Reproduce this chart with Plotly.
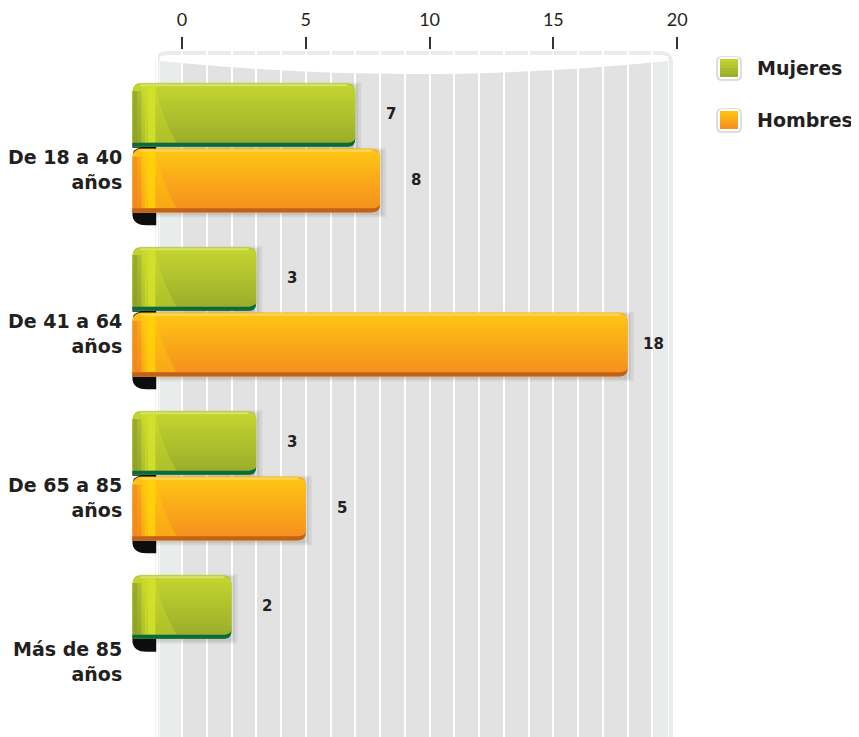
import math
import plotly.graph_objects as go

# ---------------- data ----------------
categories = ["De 18 a 40 años", "De 41 a 64 años", "De 65 a 85 años", "Más de 85 años"]
category_labels = ["De 18 a 40<br>años", "De 41 a 64<br>años", "De 65 a 85<br>años", "Más de 85<br>años"]
series_names = ["Mujeres", "Hombres"]
mujeres = [7, 3, 3, 2]
hombres = [8, 18, 5, None]
x_tick_values = [0, 5, 10, 15, 20]
x_tick_labels = ["0", "5", "10", "15", "20"]

series_values = [mujeres, hombres]

# ---------------- style ----------------
FONT_B = "DejaVu Sans"
FONT_R = "Lato"
TEXT = "#231f20"
colors = ["#adc02c", "#f9a61a"]
grad_top = [(0xc6, 0xd6, 0x30), (0xfe, 0xc7, 0x14)]
grad_bot = [(0x98, 0xab, 0x2a), (0xf5, 0x8c, 0x1f)]
edge_colors = ["#0b6a3a", "#c2621a"]
light_colors = ["#d3e22b", "#ffd20b"]
dark_left = ["#8c9d28", "#ee8420"]

RIBBON_START = -2.0
PANEL_L, PANEL_R = -1.0, 19.75
X_RANGE = [-2.1, 20.6]
PAGE_OFF = 8            # html body margin
PLOT_TOP_S = 50         # screen px
SCREEN_BOTTOM = 737 + PAGE_OFF
PLOT_L_S, PLOT_W = 130, 562
PX_PER_CAT = 164.0
Y_TOP = -0.596
Y_RANGE = [Y_TOP + (SCREEN_BOTTOM - PLOT_TOP_S) / PX_PER_CAT, Y_TOP]
OFFSETS = [-0.2, 0.2]
HALF = 0.4 * (1 - 0.03) / 2
R = 8  # bar corner radius px


def py(p):  # screen pixel y -> paper y
    return (SCREEN_BOTTOM - p) / (SCREEN_BOTTOM - PLOT_TOP_S)


def px(p):  # screen pixel x -> paper x
    return (p - PLOT_L_S) / PLOT_W


def rrect(x0, x1, y0, y1, rx, ry):
    return (f"M {x0},{y0 + ry} L {x0},{y1 - ry} Q {x0},{y1} {x0 + rx},{y1} "
            f"L {x1 - rx},{y1} Q {x1},{y1} {x1},{y1 - ry} L {x1},{y0 + ry} "
            f"Q {x1},{y0} {x1 - rx},{y0} L {x0 + rx},{y0} Q {x0},{y0} {x0},{y0 + ry} Z")


def hexc(c):
    return "#%02x%02x%02x" % tuple(int(round(v)) for v in c)


ux = 1 / 24.75
uy = 1 / (SCREEN_BOTTOM - PLOT_TOP_S)
uc = 1 / PX_PER_CAT


def corner_dx(dist):
    if dist >= R:
        return 0.0
    d = R - dist
    return R - math.sqrt(max(R * R - d * d, 0))


fig = go.Figure()
for s, (name, vals) in enumerate(zip(series_names, series_values)):
    fig.add_trace(go.Bar(
        y=categories,
        x=[None if v is None else v - RIBBON_START for v in vals],
        base=RIBBON_START,
        orientation="h",
        name=name,
        marker=dict(color=colors[s], line=dict(width=0)),
        customdata=vals,
        hovertemplate="%{y}: %{customdata}<extra>" + name + "</extra>",
        showlegend=False,
    ))

shapes = []
# ---- panel ----
top_p = py(53)
shapes.append(dict(type="path", xref="x", yref="paper", layer="below",
                   path=(f"M {PANEL_L},-0.2 L {PANEL_L},{top_p - 10*uy} Q {PANEL_L},{top_p} {PANEL_L + 10*ux},{top_p} "
                         f"L {PANEL_R - 10*ux},{top_p} Q {PANEL_R},{top_p} {PANEL_R},{top_p - 10*uy} L {PANEL_R},-0.2 Z"),
                   fillcolor="white", line=dict(color="rgba(0,0,0,0.08)", width=4)))
shapes.append(dict(type="rect", xref="x", yref="paper", layer="below",
                   x0=PANEL_L + 3*ux, x1=PANEL_R - 3*ux, y0=-0.2, y1=top_p - 4*uy,
                   fillcolor="#e2e2e2", line=dict(width=0)))
shapes.append(dict(type="rect", xref="x", yref="paper", layer="below",
                   x0=PANEL_L + 3*ux, x1=-0.05, y0=-0.2, y1=top_p - 4*uy,
                   fillcolor="#e8ecea", line=dict(width=0)))
shapes.append(dict(type="rect", xref="x", yref="paper", layer="below",
                   x0=19.05, x1=PANEL_R - 3*ux, y0=-0.2, y1=top_p - 4*uy,
                   fillcolor="#e8ecea", line=dict(width=0)))
edge_y, mid_y = py(61), py(74)
ctrl_y = 2 * mid_y - edge_y
xm = (PANEL_L + PANEL_R) / 2
shapes.append(dict(type="path", xref="x", yref="paper", layer="above",
                   path=(f"M {PANEL_L + 3*ux},{top_p - 3*uy} L {PANEL_R - 3*ux},{top_p - 3*uy} "
                         f"L {PANEL_R - 3*ux},{edge_y} Q {xm},{ctrl_y} {PANEL_L + 3*ux},{edge_y} Z"),
                   fillcolor="white", line=dict(width=0)))

# ---- bar decoration ----
NB = 16
for s, vals in enumerate(series_values):
    for i, v in enumerate(vals):
        if v is None:
            continue
        yc = i + OFFSETS[s]
        ytop, ybot = yc - HALF, yc + HALF
        H = (ybot - ytop) / uc
        # soft shadow
        shapes.append(dict(type="rect", xref="x", yref="y", layer="between",
                           x0=RIBBON_START + 0.1, x1=v + 6*ux, y0=ytop - 1*uc, y1=ybot + 5*uc,
                           fillcolor="rgba(0,0,0,0.06)", line=dict(width=0)))
        shapes.append(dict(type="rect", xref="x", yref="y", layer="between",
                           x0=RIBBON_START + 0.1, x1=v + 3*ux, y0=ytop + 1*uc, y1=ybot + 3*uc,
                           fillcolor="rgba(0,0,0,0.08)", line=dict(width=0)))
        # black curl at the fold
        shapes.append(dict(type="path", xref="x", yref="y", layer="between",
                           path=(f"M {RIBBON_START},{ybot - 4*uc} L {RIBBON_START},{ybot + 3*uc} "
                                 f"Q {RIBBON_START + 1*ux},{ybot + 13*uc} {RIBBON_START + 14*ux},{ybot + 13*uc} "
                                 f"L {PANEL_L - 1*ux},{ybot + 13*uc} L {PANEL_L - 1*ux},{ybot - 4*uc} Z"),
                           fillcolor="#0d0d0d", line=dict(width=0)))
        # vertical gradient body (rounded top-left, rounded right end)
        for k in range(NB):
            a_px, b_px = H * k / NB, H * (k + 1) / NB
            t = (k + 0.5) / NB
            col = [grad_top[s][j] + (grad_bot[s][j] - grad_top[s][j]) * t for j in range(3)]

            def rx(p):
                return v - max(corner_dx(p), corner_dx(H - p)) * ux

            def lx(p):
                return RIBBON_START + corner_dx(p) * ux

            ya, yb = ytop + a_px * uc, ytop + b_px * uc
            shapes.append(dict(type="path", xref="x", yref="y", layer="above",
                               path=(f"M {lx(a_px)},{ya} L {rx(a_px)},{ya} L {rx(b_px)},{yb + 0.3*uc} "
                                     f"L {lx(b_px)},{yb + 0.3*uc} Z"),
                               fillcolor=hexc(col), line=dict(width=0)))
        # top highlight line
        shapes.append(dict(type="rect", xref="x", yref="y", layer="above",
                           x0=RIBBON_START + 8*ux, x1=v - 8*ux, y0=ytop + 1*uc, y1=ytop + 3*uc,
                           fillcolor="white", opacity=0.3, line=dict(width=0)))
        # left fold shading (horizontal)
        fold = [(0, 5, dark_left[s], 0.7), (5, 9, dark_left[s], 0.35),
                (9, 12, light_colors[s], 0.35), (12, 15, light_colors[s], 0.65),
                (15, 23, light_colors[s], 0.9)]
        for x0p, x1p, c, op in fold:
            shapes.append(dict(type="rect", xref="x", yref="y", layer="above",
                               x0=RIBBON_START + x0p*ux, x1=RIBBON_START + x1p*ux,
                               y0=ytop + max(3, corner_dx(0) if x0p < R else 0)*uc, y1=ybot - 4*uc,
                               fillcolor=c, opacity=op, line=dict(width=0)))
        # gloss sweep after fold
        shapes.append(dict(type="path", xref="x", yref="y", layer="above",
                           path=(f"M {RIBBON_START + 23*ux},{ytop + 3*uc} "
                                 f"Q {RIBBON_START + 28*ux},{yc} {RIBBON_START + 44*ux},{ybot - 4*uc} "
                                 f"L {RIBBON_START + 23*ux},{ybot - 4*uc} Z"),
                           fillcolor=light_colors[s], opacity=0.35, line=dict(width=0)))
        # dark bottom edge
        shapes.append(dict(type="path", xref="x", yref="y", layer="above",
                           path=(f"M {RIBBON_START},{ybot - 4*uc} L {v - 7*ux},{ybot - 4*uc} "
                                 f"Q {v - 1*ux},{ybot - 5*uc} {v},{ybot - 8*uc} "
                                 f"Q {v},{ybot} {v - 7*ux},{ybot} L {RIBBON_START},{ybot} Z"),
                           fillcolor=edge_colors[s], line=dict(width=0)))
        # top-left rounding mask over the plain bar
        shapes.append(dict(type="path", xref="x", yref="y", layer="above",
                           path=(f"M {RIBBON_START - 1*ux},{ytop - 1*uc} L {RIBBON_START + R*ux},{ytop - 1*uc} "
                                 f"Q {RIBBON_START},{ytop} {RIBBON_START - 1*ux},{ytop + R*uc} Z"),
                           fillcolor="white", line=dict(width=0)))

# ---- legend swatches ----
leg_y = [68, 120]
for s, name in enumerate(series_names):
    cy = leg_y[s]
    shapes.append(dict(type="path", xref="paper", yref="paper", layer="above",
                       path=rrect(px(716), px(742), py(cy + 13), py(cy - 12), 6 / PLOT_W, 6 * uy),
                       fillcolor="rgba(0,0,0,0.13)", line=dict(width=0)))
    shapes.append(dict(type="path", xref="paper", yref="paper", layer="above",
                       path=rrect(px(718), px(740), py(cy + 11), py(cy - 11), 5 / PLOT_W, 5 * uy),
                       fillcolor="white", line=dict(width=0)))
    for k in range(6):
        t = (k + 0.5) / 6
        col = [grad_top[s][j] + (grad_bot[s][j] - grad_top[s][j]) * t for j in range(3)]
        shapes.append(dict(type="rect", xref="paper", yref="paper", layer="above",
                           x0=px(720), x1=px(738), y0=py(cy - 9 + 3 * (k + 1)), y1=py(cy - 9 + 3 * k),
                           fillcolor=hexc(col), line=dict(width=0)))

annotations = []
for i, lab in enumerate(category_labels):
    annotations.append(dict(xref="paper", x=px(124), xanchor="right", yref="y", y=i, yshift=-22,
                            yanchor="middle", text=lab, align="right", showarrow=False,
                            font=dict(family=FONT_B, size=19, color=TEXT, weight="bold")))
for s, vals in enumerate(series_values):
    for i, v in enumerate(vals):
        if v is None:
            continue
        annotations.append(dict(xref="x", x=min(v + 1.17, 18.52), xanchor="left", yref="y", y=i + OFFSETS[s],
                                yanchor="middle", yshift=1, text=str(v), showarrow=False,
                                font=dict(family=FONT_B, size=15, color=TEXT, weight="bold")))
for s, name in enumerate(series_names):
    annotations.append(dict(xref="paper", x=px(755), xanchor="left", yref="paper", y=py(leg_y[s]),
                            yanchor="middle", text=name, showarrow=False,
                            font=dict(family=FONT_B, size=19, color=TEXT, weight="bold")))

fig.update_layout(
    width=859, height=737,
    margin=dict(l=PLOT_L_S - PAGE_OFF, r=859 - (PLOT_L_S - PAGE_OFF) - PLOT_W,
                t=PLOT_TOP_S - PAGE_OFF, b=0, pad=0),
    paper_bgcolor="white", plot_bgcolor="white",
    barmode="group", bargap=0.2, bargroupgap=0.03, barcornerradius=R,
    showlegend=False,
    xaxis=dict(side="top", range=X_RANGE, tickmode="linear", tick0=x_tick_values[0],
               dtick=x_tick_values[1] - x_tick_values[0],
               ticks="outside", ticklen=12, tickwidth=1.5, tickcolor="#333",
               tickfont=dict(family=FONT_R, size=18, color=TEXT),
               showgrid=True, gridcolor="white", gridwidth=1.5,
               minor=dict(dtick=1, tick0=0, showgrid=True, gridcolor="white", gridwidth=1.5, ticks=""),
               showline=False, zeroline=False, ticklabelstandoff=4, fixedrange=True),
    yaxis=dict(type="category", categoryorder="array", categoryarray=categories, range=Y_RANGE,
               showticklabels=False, showgrid=False, zeroline=False, ticks="", fixedrange=True),
    shapes=shapes,
    annotations=annotations,
)

fig.write_html("out.html")
